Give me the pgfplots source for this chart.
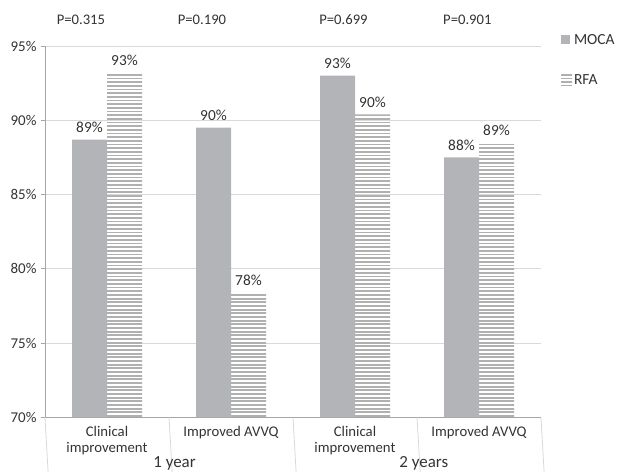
\documentclass[border=0pt]{standalone}
\usepackage{pgfplots}
\pgfplotsset{compat=1.18}
\usepackage{fontspec}
\setmainfont{Carlito}
\usetikzlibrary{patterns}
\definecolor{moca}{HTML}{B3B4B7}
\definecolor{rfa}{HTML}{B0B0B0}
\definecolor{gridc}{HTML}{D9D9D9}
\definecolor{axisc}{HTML}{A6A6A6}
\definecolor{txt}{HTML}{333333}
\pgfdeclarepatternformonly{hstripes}{\pgfpoint{-2bp}{0bp}}{\pgfpoint{702bp}{3.67bp}}{\pgfpoint{700bp}{3.67bp}}{%
  \pgfpathrectangle{\pgfpoint{-2bp}{0bp}}{\pgfpoint{704bp}{1.8bp}}\pgfusepath{fill}}
\begin{document}
\begin{tikzpicture}[font=\fontsize{14.8}{16.7}\selectfont]
\path[use as bounding box] (0,0) rectangle (618bp,472bp);
\begin{axis}[
  at={(45bp,54.7bp)}, anchor=south west,
  scale only axis, width=496bp, height=371.3bp,
  xmin=-0.5, xmax=3.5, ymin=70, ymax=95,
  ybar=0pt, bar width=35bp,
  clip mode=individual,
  axis lines*=left,
  axis line style={draw=axisc, line width=0.8bp},
  ytick={70,75,80,85,90,95},
  yticklabels={70\%,75\%,80\%,85\%,90\%,95\%},
  yticklabel style={font=\fontsize{15}{17}\selectfont, text=txt, xshift=-1bp},
  ymajorgrids, grid style={draw=gridc, line width=0.8bp},
  tick align=outside, major tick length=4bp,
  ytick style={draw=axisc, line width=0.8bp},
  xtick={0,1,2,3},
  xtick style={draw=none},
  xticklabels={{Clinical\\improvement},{Improved AVVQ},{Clinical\\improvement},{Improved AVVQ}},
  xticklabel style={align=center, font=\fontsize{14.8}{16.7}\selectfont, text=txt, yshift=-1bp},
  nodes near coords,
  point meta=explicit symbolic,
  every node near coord/.append style={anchor=base, yshift=7.3bp, inner sep=0pt, font=\fontsize{15.4}{17}\selectfont, text=txt},
  legend style={at={(rel axis cs:1.04,1.038)}, anchor=north west, draw=none, fill=none,
    inner sep=0pt, font=\fontsize{15.5}{18}\selectfont, text=txt, row sep=25bp},
  legend cell align=left,
]
\addplot[fill=moca, draw=none,
  legend image code/.code={\fill[moca] (0bp,-4.5bp) rectangle (9.3bp,4.5bp);}]
  coordinates {(0,88.7)[89\%] (1,89.5)[90\%] (2,93.0)[93\%] (3,87.5)[88\%]};
\addplot[pattern=hstripes, pattern color=rfa, draw=none,
  legend image code/.code={\fill[pattern=hstripes, pattern color=rfa] (0bp,-5.5bp) rectangle (11bp,5.5bp);}]
  coordinates {(0,93.2)[93\%] (1,78.4)[78\%] (2,90.4)[90\%] (3,88.5)[89\%]};
\legend{MOCA,RFA}
% category separators
\draw[gridc, line width=0.8bp] (axis cs:-0.5,70) -- ++(0,-50bp);
\draw[gridc, line width=0.8bp] (axis cs:0.5,70) -- ++(0,-24.5bp);
\draw[gridc, line width=0.8bp] (axis cs:1.5,70) -- ++(0,-50bp);
\draw[gridc, line width=0.8bp] (axis cs:2.5,70) -- ++(0,-24.5bp);
\draw[gridc, line width=0.8bp] (axis cs:3.5,70) -- ++(0,-50bp);
% group labels
\node[anchor=base, text=txt, font=\fontsize{17}{19}\selectfont] at ([yshift=-50.5bp]axis cs:0.545,70) {1 year};
\node[anchor=base, text=txt, font=\fontsize{17}{19}\selectfont] at ([yshift=-50.5bp]axis cs:2.555,70) {2 years};
% p-values
\node[anchor=base, text=txt, font=\fontsize{14.7}{17}\selectfont] at ([yshift=21.7bp]axis cs:-0.21,95) {P=0.315};
\node[anchor=base, text=txt, font=\fontsize{14.7}{17}\selectfont] at ([yshift=21.7bp]axis cs:0.766,95) {P=0.190};
\node[anchor=base, text=txt, font=\fontsize{14.7}{17}\selectfont] at ([yshift=21.7bp]axis cs:1.907,95) {P=0.699};
\node[anchor=base, text=txt, font=\fontsize{14.7}{17}\selectfont] at ([yshift=21.7bp]axis cs:2.906,95) {P=0.901};
\end{axis}
\end{tikzpicture}
\end{document}
